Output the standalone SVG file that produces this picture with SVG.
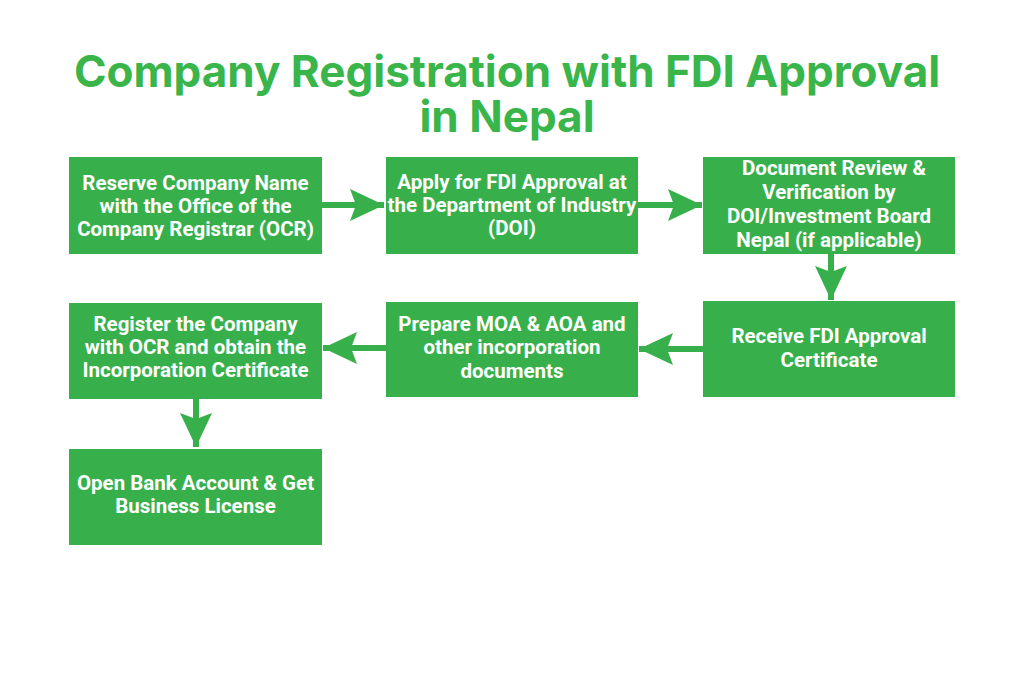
<svg xmlns="http://www.w3.org/2000/svg" width="1024" height="683" viewBox="0 0 1024 683">
<defs>
<style>
.box{fill:#37b04b;}
.t{font-family:Roboto,"Liberation Sans",sans-serif;font-weight:700;font-size:20.5px;fill:#ffffff;text-anchor:middle;}
.title{font-family:Inter,Roboto,"Liberation Sans",sans-serif;font-weight:700;font-size:44px;fill:#3ab54a;text-anchor:middle;}
.c{stroke:#37b04b;stroke-width:6;fill:none;marker-end:url(#ah);}
</style>
<marker id="ah" viewBox="0 0 34 32" refX="34" refY="16" markerWidth="34" markerHeight="32" markerUnits="userSpaceOnUse" orient="auto">
<path d="M0,0 L34,16 L0,32 L6,16 Z" fill="#37b04b"/>
</marker>
</defs>
<rect width="1024" height="683" fill="#ffffff"/>
<g id="title">
<text class="title" x="507" y="87">Company Registration with FDI Approval</text>
<text class="title" x="507" y="132">in Nepal</text>
</g>
<g id="connectors">
<path class="c" d="M322,205 L384,205"/>
<path class="c" d="M638,205 L702,205"/>
<path class="c" d="M831,254 L831,300"/>
<path class="c" d="M703,349 L639,349"/>
<path class="c" d="M386,348 L323,348"/>
<path class="c" d="M196,398 L196,447"/>
</g>
<g id="n1">
<rect class="box" x="69" y="157" width="253" height="97"/>
<text class="t" x="195.5" y="190">Reserve Company Name</text>
<text class="t" x="195.5" y="213">with the Office of the</text>
<text class="t" x="195.5" y="236">Company Registrar (OCR)</text>
</g>
<g id="n2">
<rect class="box" x="386" y="157" width="252" height="97"/>
<text class="t" x="512" y="189">Apply for FDI Approval at</text>
<text class="t" x="512" y="212">the Department of Industry</text>
<text class="t" x="512" y="235">(DOI)</text>
</g>
<g id="n3">
<rect class="box" x="703" y="157" width="252" height="97"/>
<text class="t" x="834" y="175">Document Review &amp;</text>
<text class="t" x="829" y="199">Verification by</text>
<text class="t" x="829" y="223">DOI/Investment Board</text>
<text class="t" x="829" y="247">Nepal (if applicable)</text>
</g>
<g id="n4">
<rect class="box" x="703" y="301" width="252" height="96"/>
<text class="t" x="829" y="343">Receive FDI Approval</text>
<text class="t" x="829" y="367">Certificate</text>
</g>
<g id="n5">
<rect class="box" x="386" y="302" width="252" height="95"/>
<text class="t" x="512" y="331">Prepare MOA &amp; AOA and</text>
<text class="t" x="512" y="354">other incorporation</text>
<text class="t" x="512" y="378">documents</text>
</g>
<g id="n6">
<rect class="box" x="69" y="303" width="253" height="96"/>
<text class="t" x="195.5" y="331">Register the Company</text>
<text class="t" x="195.5" y="354">with OCR and obtain the</text>
<text class="t" x="195.5" y="377">Incorporation Certificate</text>
</g>
<g id="n7">
<rect class="box" x="69" y="449" width="253" height="96"/>
<text class="t" x="195.5" y="490">Open Bank Account &amp; Get</text>
<text class="t" x="195.5" y="513">Business License</text>
</g>
</svg>
